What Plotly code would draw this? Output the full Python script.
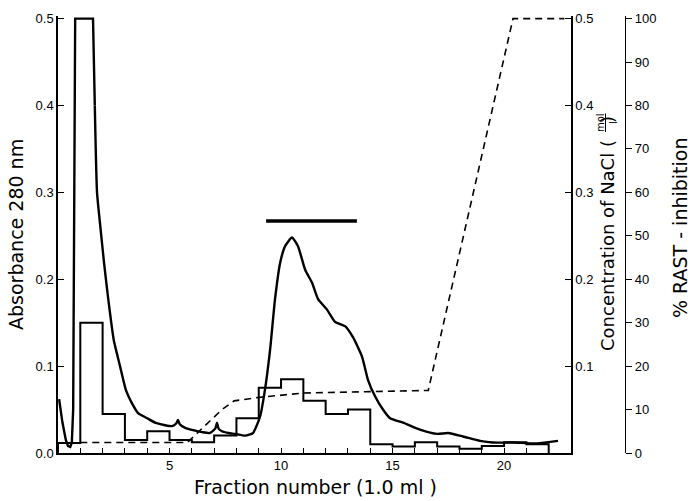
import plotly.graph_objects as go

# ---------------- data ----------------
# Absorbance at 280 nm (left axis)
abs_x = [0.05, 0.2, 0.35, 0.45, 0.55, 0.62, 0.68, 0.72, 0.77, 1.57, 1.65, 1.75, 1.9, 2.06,
         2.24, 2.5, 2.78, 3.05, 3.3, 3.59, 4.0, 4.35, 4.8, 5.11, 5.3, 5.38, 5.46, 5.7, 6.1,
         6.46, 6.8, 7.05, 7.13, 7.2, 7.35, 7.65, 7.94, 8.39, 8.74, 9.06, 9.28, 9.51, 9.73,
         9.96, 10.18, 10.49, 10.76, 11.08, 11.39, 11.66, 12.06, 12.42, 12.87, 13.23, 13.63,
         13.9, 14.22, 14.57, 14.89, 15.47, 16.23, 17.0, 17.49, 18.16, 18.92, 19.5, 20.4,
         21.48, 22.42]
abs_y = [0.062, 0.035, 0.015, 0.008, 0.007, 0.012, 0.05, 0.2, 0.5, 0.5, 0.4, 0.3, 0.26, 0.22,
         0.18, 0.13, 0.1, 0.072, 0.058, 0.046, 0.04, 0.035, 0.032, 0.031, 0.034, 0.038, 0.033,
         0.029, 0.026, 0.024, 0.023, 0.028, 0.035, 0.028, 0.025, 0.023, 0.022, 0.02, 0.023,
         0.042, 0.073, 0.119, 0.177, 0.219, 0.238, 0.248, 0.238, 0.211, 0.196, 0.177, 0.165,
         0.151, 0.146, 0.133, 0.111, 0.084, 0.065, 0.05, 0.04, 0.035, 0.027, 0.022, 0.023,
         0.019, 0.014, 0.012, 0.012, 0.011, 0.014]

# NaCl gradient (mol/l, middle axis)
nacl_x = [1.0, 5.8, 6.0, 6.6, 7.35, 7.9, 9.0, 11.0, 16.6, 20.4, 22.7]
nacl_y = [0.012, 0.012, 0.017, 0.032, 0.05, 0.06, 0.064, 0.069, 0.072, 0.5, 0.5]

# % RAST inhibition per fraction (fraction i spans i..i+1)
fraction_start = list(range(0, 22))
rast_pct = [2.3, 30, 9, 3, 5, 3, 2.5, 4, 8, 15, 17, 12, 9, 10, 2, 1.5, 2.5, 1.5, 1, 1.6, 2.5, 2]

# pooled fractions bar
pool_start, pool_end, pool_level = 9.33, 13.4, 0.267

# axis ticks
x_tickvals = list(range(1, 23))
x_ticklabels = [str(v) if v % 5 == 0 else "" for v in x_tickvals]
abs_tickvals = [0.0, 0.1, 0.2, 0.3, 0.4, 0.5]
abs_ticklabels = ["0.0", "0.1", "0.2", "0.3", "0.4", "0.5"]
nacl_tickvals = [0.1, 0.2, 0.3, 0.4, 0.5]
nacl_ticklabels = ["0.1", "0.2", "0.3", "0.4", "0.5"]
rast_tickvals = list(range(0, 101, 10))

# ---------------- layout geometry ----------------
W, H = 690, 501
ML, MR, MT, MB = 58, 65, 16, 48
PW, PH = W - ML - MR, H - MT - MB
x_axis_end_px = 571
x_dom_end = (x_axis_end_px - ML) / PW


def px2paper(px, py):
    return (px - ML) / PW, (H - MB - py) / PH


# step outline of histogram built from data
hist_x = [fraction_start[0]]
hist_y = [0]
for i, v in enumerate(rast_pct):
    hist_x += [fraction_start[i], fraction_start[i] + 1]
    hist_y += [v, v]
hist_x.append(fraction_start[-1] + 1)
hist_y.append(0)

# the off-scale first peak has sharp corners; the rest of the trace is smooth
split = 10  # index of the point where the plateau ends (x = 1.65)

fig = go.Figure()
fig.add_trace(go.Scatter(x=hist_x, y=hist_y, yaxis="y3", mode="lines",
                         line=dict(color="black", width=2), showlegend=False))
fig.add_trace(go.Scatter(x=nacl_x, y=nacl_y, yaxis="y2", mode="lines",
                         line=dict(color="black", width=1.6, dash="7px,5px"), showlegend=False))
fig.add_trace(go.Scatter(x=abs_x[:split + 1], y=abs_y[:split + 1], mode="lines",
                         line=dict(color="black", width=2.4, shape="linear"),
                         showlegend=False))
fig.add_trace(go.Scatter(x=abs_x[split:], y=abs_y[split:], mode="lines",
                         line=dict(color="black", width=2.4, shape="spline", smoothing=0.5),
                         showlegend=False))
fig.add_trace(go.Scatter(x=[pool_start, pool_end], y=[pool_level, pool_level], mode="lines",
                         line=dict(color="black", width=3.5), showlegend=False))

tickfont = dict(family="Liberation Sans", size=13, color="black")
titlefont = dict(family="DejaVu Sans", size=19, color="black")

fig.update_layout(
    width=W, height=H,
    margin=dict(l=ML, r=MR, t=MT, b=MB),
    paper_bgcolor="white", plot_bgcolor="white",
    xaxis=dict(domain=[0, x_dom_end], range=[0, 23], showline=True, linecolor="black",
               linewidth=1.5, ticks="inside", ticklen=5, tickwidth=1.2, tickcolor="black",
               tickvals=x_tickvals, ticktext=x_ticklabels, tickfont=tickfont,
               showgrid=False, zeroline=False, automargin=False),
    yaxis=dict(range=[0, 0.503], showline=True, linecolor="black", linewidth=1.5,
               ticks="inside", ticklen=6, tickwidth=1.2, tickcolor="black",
               tickvals=abs_tickvals, ticktext=abs_ticklabels, tickfont=tickfont,
               showgrid=False, zeroline=False, automargin=False),
    yaxis2=dict(range=[0, 0.503], overlaying="y", side="right", anchor="x",
                showline=True, linecolor="black", linewidth=1.5,
                ticks="inside", ticklen=6, tickwidth=1.2, tickcolor="black",
                tickvals=nacl_tickvals, ticktext=nacl_ticklabels, tickfont=tickfont,
                showgrid=False, zeroline=False, automargin=False),
    yaxis3=dict(range=[0, 100.6], overlaying="y", side="right", anchor="free", position=1.0,
                showline=True, linecolor="black", linewidth=1.2,
                ticks="outside", ticklen=6, tickwidth=1.2, tickcolor="black",
                tickvals=rast_tickvals, tickfont=tickfont,
                showgrid=False, zeroline=False, automargin=False),
)

ann = []
x0, y0 = px2paper(16, 235)
ann.append(dict(text="Absorbance 280 nm", x=x0, y=y0, xref="paper", yref="paper",
                textangle=-90, showarrow=False, font=titlefont, xanchor="center", yanchor="middle"))
x0, y0 = px2paper(680, 228)
ann.append(dict(text="% RAST - inhibition", x=x0, y=y0, xref="paper", yref="paper",
                textangle=-90, showarrow=False, font=titlefont, xanchor="center", yanchor="middle"))
x0, y0 = px2paper(608, 234)
ann.append(dict(text="Concentration of NaCl (&#160;&#160;&#160;)", x=x0, y=y0, xref="paper",
                yref="paper", textangle=-90, showarrow=False,
                font=dict(family="DejaVu Sans", size=18, color="black"),
                xanchor="center", yanchor="middle"))
x0, y0 = px2paper(607, 123)
ann.append(dict(text="<span style='text-decoration:underline'>mol</span><br>l", x=x0, y=y0,
                xref="paper", yref="paper", textangle=-90, showarrow=False,
                font=dict(family="DejaVu Sans", size=10, color="black"),
                xanchor="center", yanchor="middle"))
x0, y0 = px2paper(315, 487)
ann.append(dict(text="Fraction number (1.0 ml )", x=x0, y=y0, xref="paper", yref="paper",
                showarrow=False, font=titlefont, xanchor="center", yanchor="middle"))
fig.update_layout(annotations=ann)

fig.write_html("out.html", config={"displayModeBar": False},
               post_script="document.body.style.margin='0';")
